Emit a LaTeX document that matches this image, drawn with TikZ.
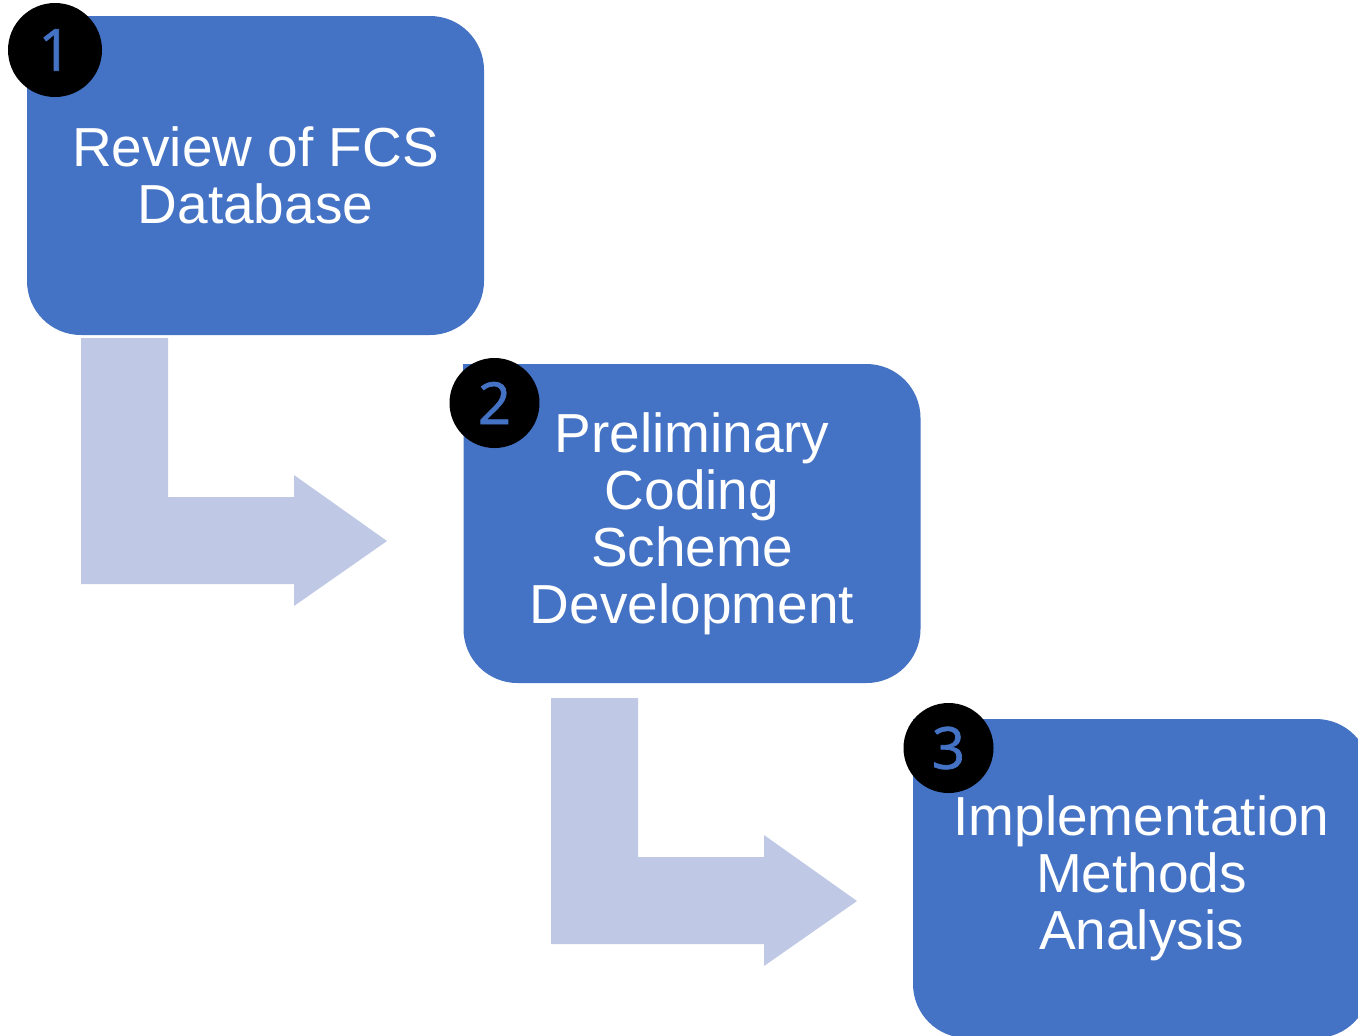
\documentclass[tikz,border=0pt]{standalone}
\usepackage{fontspec}
\setmainfont{Liberation Sans}
\newfontfamily\numfont[FakeBold=1.2]{Open Sans}
\definecolor{boxblue}{RGB}{68,114,196}
\definecolor{arlight}{RGB}{191,201,229}
\tikzset{
  stepbox/.style={rectangle, rounded corners=27pt, fill=boxblue, text=white,
                  minimum width=228.5pt, minimum height=159.5pt, inner sep=0pt,
                  align=center, font=\fontsize{27.5}{28.5}\selectfont},
  % square top-left corner of a step box
  sqcorner/.style={fill=boxblue},
  numdot/.style={circle, fill=black, inner sep=0pt, minimum size=45pt,
                 text=boxblue, font=\numfont\fontsize{29}{29}\selectfont},
  bentar/.style={fill=arlight}
}
\begin{document}
\begin{tikzpicture}[x=0.5pt,y=-0.5pt]
    \useasboundingbox (0,0) rectangle (1358,1035);
    \clip (0,0) rectangle (1358,1035);

    % --- bent arrows between the steps ---
    \fill[bentar] (81,338) -- (168,338) -- (168,497) -- (294,497) -- (294,475)
      -- (387,541) -- (294,606) -- (294,584) -- (81,584) -- cycle;
    \fill[bentar] (551,698) -- (638,698) -- (638,857) -- (764,857) -- (764,835)
      -- (857,901) -- (764,966) -- (764,944) -- (551,944) -- cycle;

    % --- steps ---
    \node[stepbox] (rev) at (255.5,175.5) {Review of FCS\\Database};
    \fill[sqcorner] (rev.north west) rectangle ++(40,40);
    \node[stepbox] (pcs) at (692,523.5)
      {Preliminary\\Coding\\Scheme\\Development};
    \fill[sqcorner] (pcs.north west) rectangle ++(40,40);
    \node[stepbox] (ima) at (1141.5,878.5)
      {Implementation\\Methods\\Analysis};
    \fill[sqcorner] (ima.north west) rectangle ++(40,40);

    % --- step numbers ---
    \node[numdot, minimum size=47pt] (n1) at (55,50) {1};
    \node[numdot] (n2) at (494.5,403) {2};
    \node[numdot] (n3) at (948.5,748) {3};
\end{tikzpicture}
\end{document}
